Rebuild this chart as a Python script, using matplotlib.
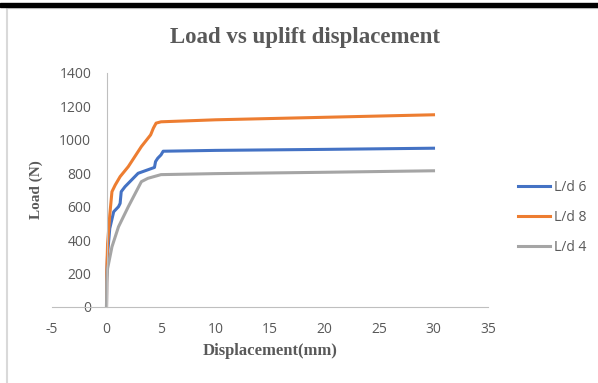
import matplotlib.pyplot as plt
from matplotlib.patches import Rectangle
from matplotlib.lines import Line2D

plt.rcParams["axes.unicode_minus"] = False

# displacement (mm) and load (N)
disp_6 = [0, 0.02, 0.1, 0.3, 0.66, 1.1, 1.25, 1.35, 1.7, 2.9, 4.4, 4.5, 4.7, 5.0, 5.2, 10, 20, 30]
load_6 = [0, 180, 320, 470, 570, 600, 620, 690, 720, 800, 835, 870, 890, 910, 932, 937, 943, 950]

disp_8 = [0, 0.02, 0.1, 0.3, 0.5, 0.8, 1.25, 2.0, 3.2, 4.05, 4.3, 4.55, 5.0, 10, 20, 30]
load_8 = [0, 200, 380, 550, 690, 730, 780, 840, 960, 1030, 1070, 1100, 1108, 1120, 1135, 1150]

disp_4 = [0, 0.02, 0.1, 0.5, 1.1, 2.0, 3.2, 3.8, 5.0, 10, 20, 30]
load_4 = [0, 150, 230, 360, 480, 600, 750, 770, 792, 798, 806, 815]

series = [("L/d 6", disp_6, load_6, "#4472C4"),
          ("L/d 8", disp_8, load_8, "#ED7D31"),
          ("L/d 4", disp_4, load_4, "#A5A5A5")]

x_ticks = [-5, 0, 5, 10, 15, 20, 25, 30, 35]
y_ticks = [0, 200, 400, 600, 800, 1000, 1200, 1400]

txt = "#595959"
fig = plt.figure(figsize=(5.98, 3.83), dpi=100)
ax = fig.add_axes([52 / 598, 1 - 307 / 383, 436 / 598, 234 / 383])

for name, x, y, c in series:
    ax.plot(x, y, color=c, lw=2.2, label=name, solid_joinstyle="round")

ax.set_xlim(-5, 35)
ax.set_ylim(0, 1400)
ax.set_xticks(x_ticks)
ax.set_yticks(y_ticks)
for s in ["top", "right"]:
    ax.spines[s].set_visible(False)
# axes cross at zero, Excel style
ax.spines["bottom"].set_color("#BFBFBF")
ax.spines["bottom"].set_position(("data", 0))
ax.spines["left"].set_color("#BFBFBF")
ax.spines["left"].set_position(("data", 0))
ax.tick_params(length=0, labelsize=10, colors=txt, labelfontfamily="Open Sans")
ax.tick_params(axis="x", pad=11)
ax.tick_params(axis="y", pad=11)

fig.text(305 / 598, 1 - 37 / 383, "Load vs uplift displacement", family="Liberation Serif",
         weight="bold", fontsize=16.5, color=txt, ha="center", va="center")
ax.set_xlabel("Displacement(mm)", family="Liberation Serif", weight="bold",
              fontsize=12, color=txt, labelpad=4)
ax.set_ylabel("Load (N)", family="Liberation Serif", weight="bold",
              fontsize=11, color=txt, labelpad=12)

ax.legend(loc="center left", bbox_to_anchor=(518 / 598, 1 - 217 / 383),
          bbox_transform=fig.transFigure, frameon=False, borderpad=0, borderaxespad=0,
          prop={"family": "Open Sans", "size": 10}, labelcolor=txt,
          handlelength=2.3, handletextpad=0.3, labelspacing=1.08)

# frame decorations from the screenshot
fig.patches.append(Rectangle((0, 1 - 7 / 383), 1, 4 / 383, transform=fig.transFigure,
                             color="black", zorder=5))
fig.lines.append(Line2D([7 / 598, 7 / 598], [0, 1 - 7 / 383], transform=fig.transFigure,
                        color="#D9D9D9", lw=1.5))
fig.lines.append(Line2D([7 / 598, 1], [1 - 7.5 / 383, 1 - 7.5 / 383], transform=fig.transFigure,
                        color="#E0E0E0", lw=1))

fig.savefig("out.png", dpi=100)
